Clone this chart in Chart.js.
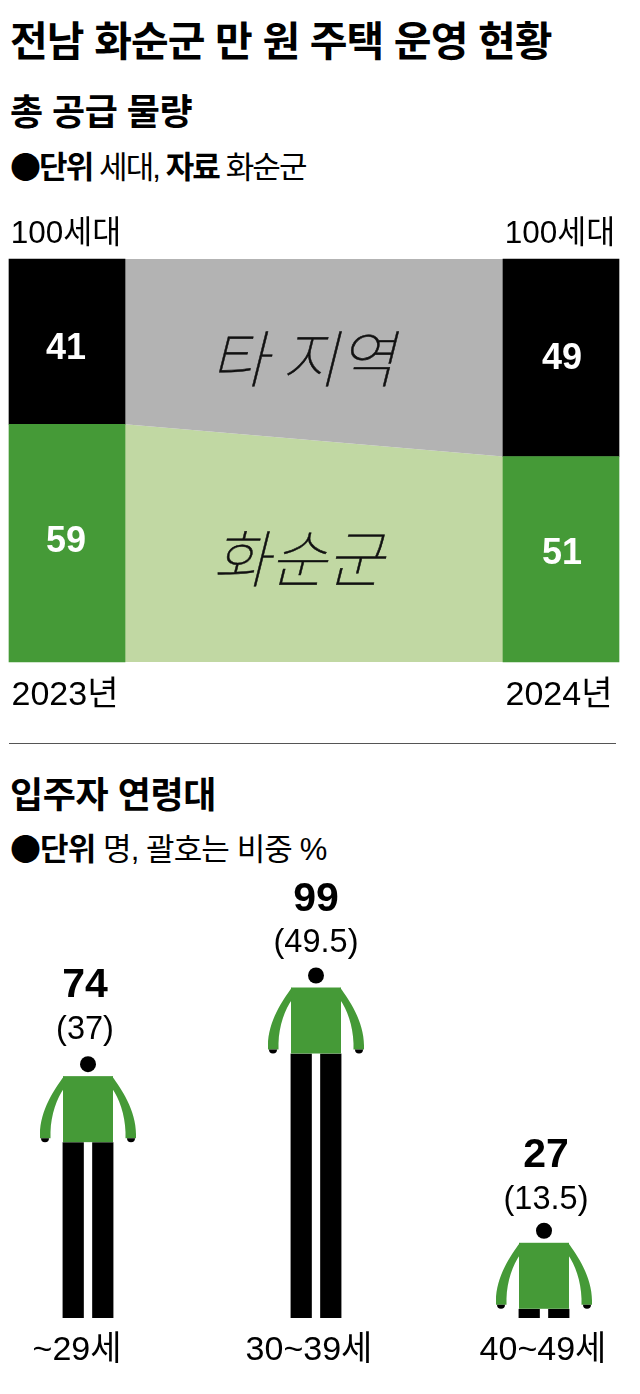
<!DOCTYPE html>
<html lang="ko">
<head>
<meta charset="utf-8">
<script src="https://cdn.jsdelivr.net/npm/chart.js@4"></script>
<style>
  html, body { margin: 0; padding: 0; background: #fff; }
  body { width: 640px; height: 1394px; position: relative; overflow: hidden; color: #000;
         font-family: "Liberation Sans", "Noto Sans CJK KR", sans-serif; }
  .t { position: absolute; left: 10px; white-space: nowrap; line-height: 1; }
  .t b { font-weight: 700; }
  .dot { font-family: "Noto Sans CJK KR", sans-serif; font-weight: 700; }
  h1, h2 { margin: 0; font-weight: 700; }
  canvas { position: absolute; left: 0; }
</style>
</head>
<body>
<h1 class="t" style="top:22px;font-size:41px;letter-spacing:-.9px">전남 화순군 만 원 주택 운영 현황</h1>
<h2 class="t" style="top:95px;font-size:36px;letter-spacing:-.5px">총 공급 물량</h2>
<div class="t" style="top:149px;font-size:31px;letter-spacing:-1.9px"><span class="dot">●</span><b>단위</b> 세대, <b>자료</b> 화순군</div>
<canvas id="supply" width="640" height="520" style="top:200px"></canvas>
<div style="position:absolute;left:9px;top:743px;width:607px;height:1px;background:#555"></div>
<h2 class="t" style="top:778px;font-size:36px;letter-spacing:-.4px">입주자 연령대</h2>
<div class="t" style="top:831px;font-size:31px;letter-spacing:-.9px"><span class="dot">●</span><b>단위</b> 명, 괄호는 비중 %</div>
<canvas id="ages" width="640" height="524" style="top:870px"></canvas>
<script>
const years = ["2023년", "2024년"];
const totals = ["100세대", "100세대"];
const hwasun = [59, 51];
const others = [41, 49];
const ageGroups = ["~29세", "30~39세", "40~49세"];
const residents = [74, 99, 27];
const shares = ["(37)", "(49.5)", "(13.5)"];

const GREEN = "#459a37";
const LIGHT_GREEN = "#c1d8a3";
const GREY = "#b3b3b3";
const FONT = '"Liberation Sans", "Noto Sans CJK KR", sans-serif';

// fills the space between the two bars, grey on top and light green below
const bandPlugin = {
  id: "bands",
  beforeDatasetsDraw(chart) {
    const { ctx } = chart;
    const low = chart.getDatasetMeta(0).data;
    const high = chart.getDatasetMeta(1).data;
    const x1 = low[0].x + low[0].width / 2;
    const x2 = low[1].x - low[1].width / 2;
    ctx.save();
    ctx.fillStyle = LIGHT_GREEN;
    ctx.beginPath();
    ctx.moveTo(x1, low[0].y);
    ctx.lineTo(x2, low[1].y);
    ctx.lineTo(x2, low[1].base);
    ctx.lineTo(x1, low[0].base);
    ctx.fill();
    ctx.fillStyle = GREY;
    ctx.beginPath();
    ctx.moveTo(x1, high[0].y);
    ctx.lineTo(x2, high[1].y);
    ctx.lineTo(x2, low[1].y);
    ctx.lineTo(x1, low[0].y);
    ctx.fill();
    ctx.restore();
  },
  afterDatasetsDraw(chart) {
    const { ctx } = chart;
    const nudge = [[-1, 7], [-5, 1]];
    ctx.save();
    ctx.textAlign = "center";
    ctx.textBaseline = "middle";
    ctx.fillStyle = "#fff";
    ctx.font = "700 36px " + FONT;
    chart.data.datasets.forEach((ds, d) => {
      chart.getDatasetMeta(d).data.forEach((bar, i) => {
        ctx.fillText(ds.data[i], bar.x + (i ? 1 : -1), (bar.y + bar.base) / 2 + nudge[i][d]);
      });
    });
    ctx.fillStyle = "#111";
    ctx.strokeStyle = "#111";
    ctx.lineWidth = 0.5;
    ctx.font = 'italic 100 62px "Noto Sans CJK KR", sans-serif';
    const mid = (chart.scales.x.left + chart.scales.x.right) / 2;
    const y = chart.scales.y;
    [[1, mid - 11, y.getPixelForValue(75) - 1], [0, mid - 16, y.getPixelForValue(26) + 1]].forEach(([d, tx, ty]) => {
      ctx.fillText(chart.data.datasets[d].label, tx, ty);
      ctx.strokeText(chart.data.datasets[d].label, tx, ty);
    });
    ctx.restore();
  },
};

new Chart(document.getElementById("supply"), {
  type: "bar",
  plugins: [bandPlugin],
  data: {
    labels: years,
    datasets: [
      { label: "화순군", data: hwasun, backgroundColor: GREEN, barThickness: 116, clip: false },
      { label: "타 지역", data: others, backgroundColor: "#000", barThickness: 116, clip: false },
    ],
  },
  options: {
    responsive: false,
    animation: false,
    layout: { padding: { left: 67, right: 79, top: 0, bottom: 0 } },
    plugins: { legend: { display: false }, tooltip: { enabled: false } },
    scales: {
      x: {
        stacked: true,
        offset: false,
        grid: { display: false },
        border: { display: false },
        ticks: { color: "#000", font: { size: 34, family: FONT }, padding: 5, labelOffset: -2, maxRotation: 0, autoSkip: false },
        afterFit: (axis) => { axis.height = 58; },
      },
      x2: {
        type: "category",
        labels: totals,
        position: "top",
        offset: false,
        grid: { display: false },
        border: { display: false },
        ticks: { color: "#000", font: { size: 31.5, family: FONT }, padding: -2, labelOffset: -1, maxRotation: 0, autoSkip: false },
        afterFit: (axis) => { axis.height = 59; },
      },
      y: { stacked: true, display: false, min: 0, max: 100 },
    },
  },
});

const TORSO = 66;
const torsoUnits = 24.4; // head and torso sit on the legs, so legs are shorter than the value

const personPlugin = {
  id: "people",
  afterDatasetsDraw(chart) {
    const { ctx } = chart;
    const left = chart.getDatasetMeta(0).data;
    const right = chart.getDatasetMeta(1).data;
    const labelNudge = [-3, 0, 2];
    const labelLift = [-2, 0, 1];
    const tickNudge = [-11, -7, -1];
    const bottom = chart.scales.y.getPixelForValue(0);
    ctx.save();
    left.forEach((bar, i) => {
      const cx = (bar.x + right[i].x) / 2;
      const bot = bar.y;
      const top = bot - TORSO;
      ctx.fillStyle = GREEN;
      ctx.fillRect(cx - 25, top, 50, TORSO);
      [-1, 1].forEach((s) => {
        ctx.fillStyle = GREEN;
        ctx.beginPath();
        ctx.moveTo(cx + s * 24, top);
        ctx.bezierCurveTo(cx + s * 33, top + 12, cx + s * 48, top + 34, cx + s * 48, top + 58);
        ctx.lineTo(cx + s * 48, top + 62);
        ctx.lineTo(cx + s * 37.5, top + 62);
        ctx.lineTo(cx + s * 37.5, top + 56);
        ctx.bezierCurveTo(cx + s * 37, top + 38, cx + s * 31, top + 22, cx + s * 24, top + 12);
        ctx.fill();
        ctx.fillStyle = "#000";
        ctx.beginPath();
        ctx.arc(cx + s * 43, top + 62, 4, 0, Math.PI);
        ctx.fill();
      });
      ctx.fillStyle = "#000";
      ctx.beginPath();
      ctx.arc(cx, top - 12, 8, 0, Math.PI * 2);
      ctx.fill();
      ctx.textAlign = "center";
      ctx.textBaseline = "middle";
      ctx.fillStyle = "#000";
      ctx.font = "700 41px " + FONT;
      ctx.fillText(residents[i], cx + labelNudge[i], top - 88 + labelLift[i]);
      ctx.font = "32.5px " + FONT;
      ctx.fillText(shares[i], cx + labelNudge[i], top - 44 + labelLift[i]);
      ctx.font = "34px " + FONT;
      ctx.fillText(ageGroups[i], cx + tickNudge[i], bottom + 33);
    });
    ctx.restore();
  },
};

new Chart(document.getElementById("ages"), {
  type: "bar",
  plugins: [personPlugin],
  data: {
    labels: ageGroups,
    datasets: [
      { data: residents.map((v) => [0, v - torsoUnits]), backgroundColor: "#000", barThickness: 25.5, borderWidth: { right: 4.5 }, borderColor: "transparent", borderSkipped: false, clip: false },
      { data: residents.map((v) => [0, v - torsoUnits]), backgroundColor: "#000", barThickness: 25.5, borderWidth: { left: 4.5 }, borderColor: "transparent", borderSkipped: false, clip: false },
    ],
  },
  options: {
    responsive: false,
    animation: false,
    layout: { padding: { left: 88, right: 96, top: 97, bottom: 76 } },
    plugins: { legend: { display: false }, tooltip: { enabled: false } },
    scales: {
      x: { display: false, offset: false },
      y: { display: false, min: 0, max: 99 },
    },
  },
});
</script>
</body>
</html>
